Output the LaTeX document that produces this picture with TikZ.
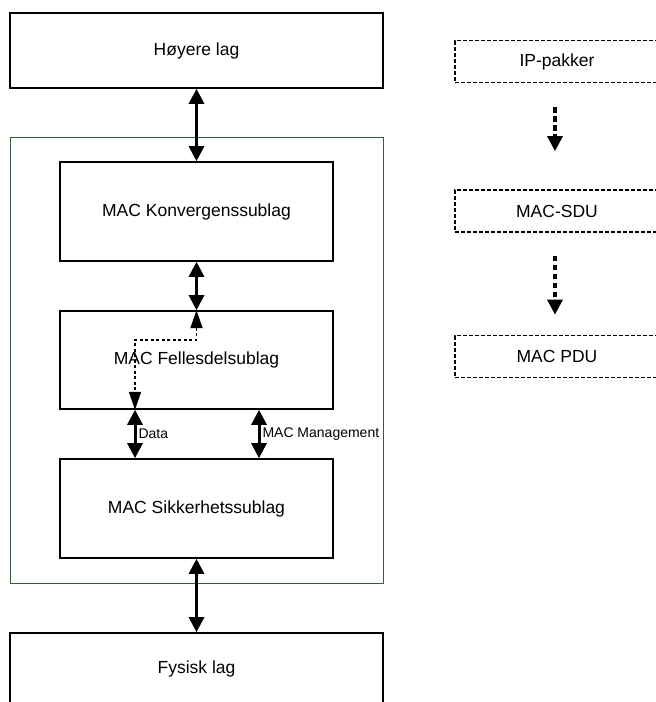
\documentclass[tikz,border=0pt]{standalone}
\usepackage{fontspec}
\setmainfont{Liberation Sans}
\usetikzlibrary{arrows.meta}
\definecolor{framegreen}{RGB}{50,95,60}
\begin{document}
\begin{tikzpicture}[x=1pt,y=-1pt,
  boxfont/.style={font=\fontsize{17.5}{20}\selectfont},
  layer/.style={draw=black, line width=1.6pt, rectangle, inner sep=0pt,
    boxfont, minimum width=373pt},
  sublayer/.style={layer, minimum width=273pt},
  unit/.style={draw=black, dash pattern=on 4pt off 2pt, line width=1.7pt,
    rectangle, inner sep=0pt, minimum width=204pt, minimum height=42pt, boxfont},
  link/.style={line width=3pt,
    {Triangle[width=15pt,length=15pt]}-{Triangle[width=15pt,length=15pt]}},
  dlink/.style={line width=1.8pt, dash pattern=on 3pt off 2.5pt,
    {Triangle[width=12pt,length=18pt]}-{Triangle[width=12pt,length=18pt]}},
  flow/.style={line width=3.2pt, dash pattern=on 5.5pt off 3.5pt,
    -{Triangle[width=15pt,length=15pt]}},
  tag/.style={right, inner sep=2pt, font=\fontsize{14}{16}\selectfont}
]
\useasboundingbox (0,0) rectangle (656,702);
\clip (0,0) rectangle (656,702);

% layer stack
\node[layer, minimum height=75pt] (hoy) at (196.5,50.5) {Høyere lag};
\node[draw=framegreen, line width=0.9pt, rectangle, inner sep=0pt,
  minimum width=373pt, minimum height=446pt] (mac) at (196.5,360) {};
\node[sublayer, minimum height=99pt] (konv) at (196.5,211.5) {MAC Konvergenssublag};
\node[sublayer, minimum height=98pt] (felles) at (196.5,360) {MAC Fellesdelsublag};
\node[sublayer, minimum height=99pt] (sikk) at (196.5,508.5) {MAC Sikkerhetssublag};
\node[layer, minimum height=72pt] (fys) at (196.5,669) {Fysisk lag};

% data units
\node[unit] (ip) at (557,61.5) {IP-pakker};
\node[unit] (sdu) at (557,211) {MAC-SDU};
\node[unit] (pdu) at (557,356.5) {MAC PDU};

% connections between layers
\coordinate (dx) at (135,0);
\coordinate (mx) at (259,0);
\coordinate (bend) at (135,340);
\coordinate (fx) at (555,0);
\draw[link] (hoy.south) -- (konv.north);
\draw[link] (konv.south) -- (felles.north);
\draw[link] (dx |- felles.south) -- (dx |- sikk.north) node[midway, tag] {Data};
\draw[link] (mx |- felles.south) -- (mx |- sikk.north) node[midway, tag] {MAC Management};
\draw[link] (sikk.south) -- (fys.north);
\draw[dlink] (felles.north) |- (bend) -- (bend |- felles.south);

% encapsulation steps
\draw[flow] ([yshift=-24pt]fx |- ip.south) -- ([yshift=38pt]fx |- sdu.north);
\draw[flow] ([yshift=-23pt]fx |- sdu.south) -- ([yshift=20pt]fx |- pdu.north);
\end{tikzpicture}
\end{document}
